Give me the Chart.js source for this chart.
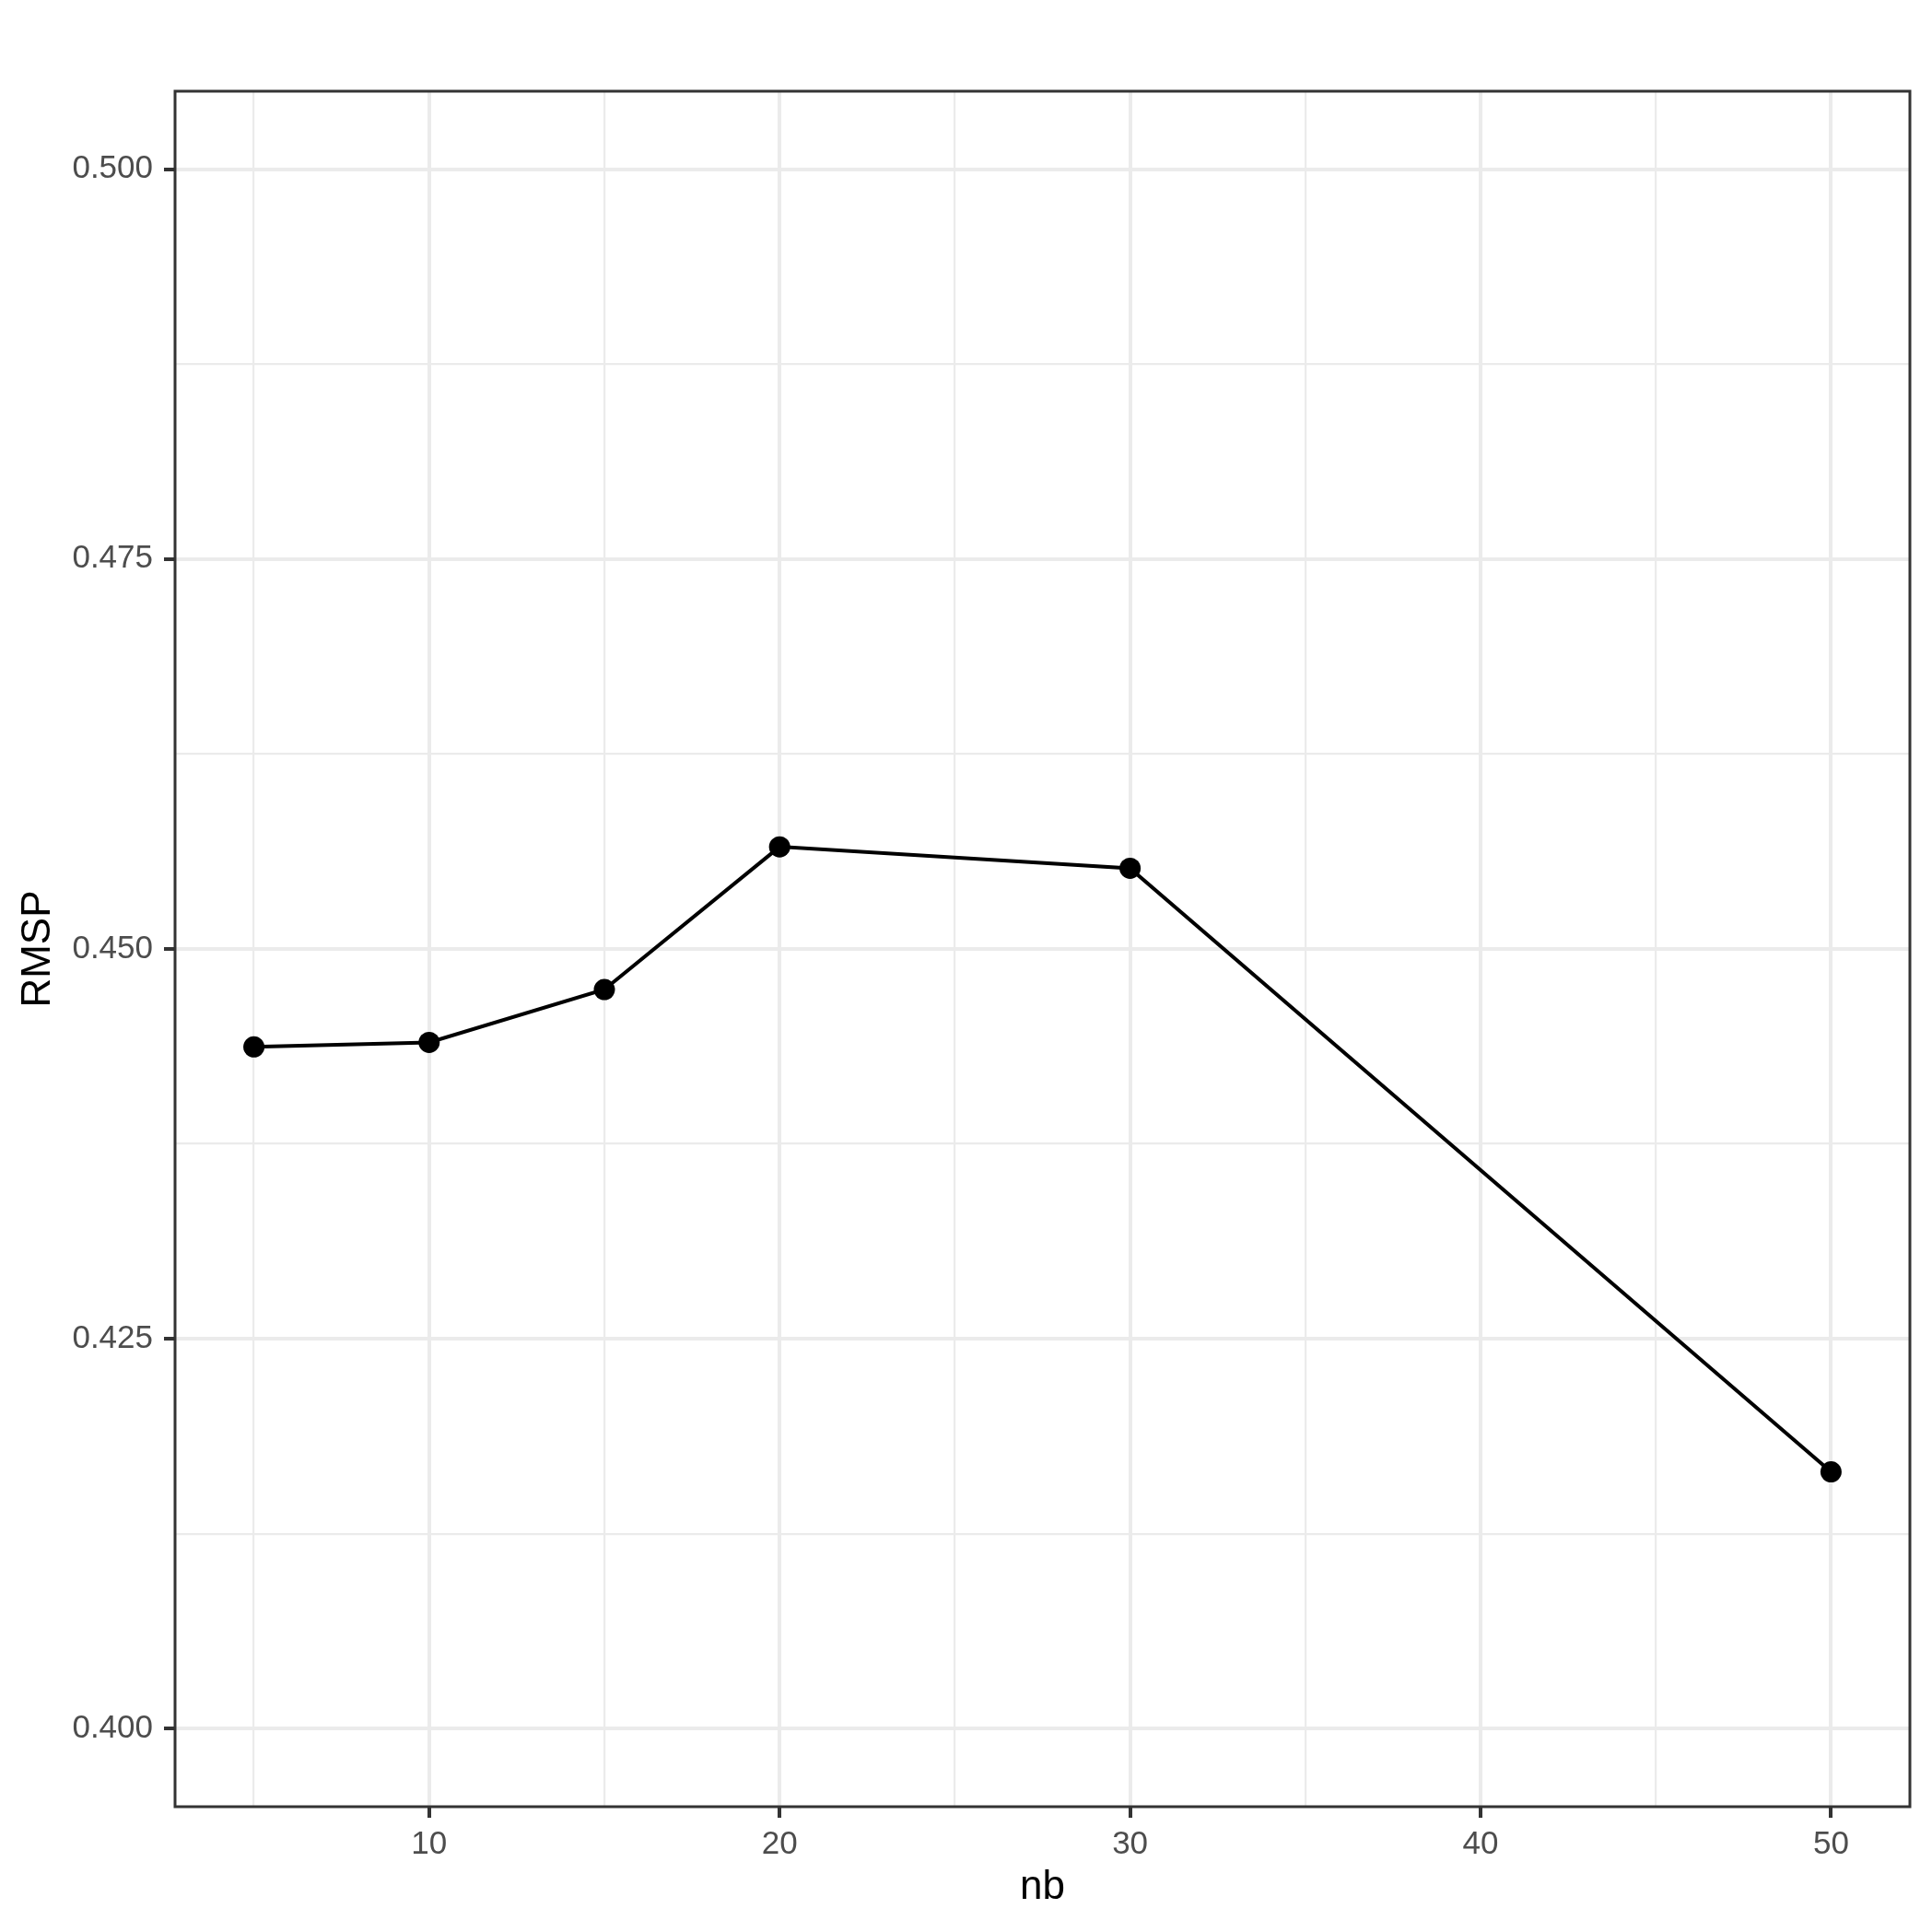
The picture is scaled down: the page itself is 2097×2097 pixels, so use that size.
<!DOCTYPE html>
<html>
<head>
<meta charset="utf-8">
<script src="https://cdn.jsdelivr.net/npm/chart.js@4"></script>
<style>
  html, body { margin: 0; padding: 0; background: #ffffff; }
  canvas { display: block; }
</style>
</head>
<body>
<canvas id="myChart" width="2097" height="2097"></canvas>
<script>
// data
const nb = [5, 10, 15, 20, 30, 50];
const rmsp = [0.44372, 0.44401, 0.44740, 0.45655, 0.45517, 0.41647];

const xMajor = [10, 20, 30, 40, 50];
const xMinor = [5, 15, 25, 35, 45];
const yMajor = [0.400, 0.425, 0.450, 0.475, 0.500];
const yMinor = [0.4125, 0.4375, 0.4625, 0.4875];

const isIn = (list, v) => list.some(m => Math.abs(m - v) < 1e-9);

// panel border like ggplot theme_bw
const panelBorder = {
    id: 'panelBorder',
    afterDraw(chart) {
        const a = chart.chartArea;
        const c = chart.ctx;
        c.save();
        c.strokeStyle = '#333333';
        c.lineWidth = 3;
        c.strokeRect(a.left, a.top, a.right - a.left, a.bottom - a.top);
        c.restore();
    }
};

document.addEventListener("DOMContentLoaded", function () {
    const ctx = document.getElementById("myChart");
    const tickFont = { family: "'Liberation Sans', Arial, sans-serif", size: 35 };
    const titleFont = { family: "'Liberation Sans', Arial, sans-serif", size: 44 };

    const gridOpts = (major) => ({
        color: '#EBEBEB',
        lineWidth: c => (c.tick && isIn(major, c.tick.value)) ? 4 : 2.2,
        tickColor: c => (c.tick && isIn(major, c.tick.value)) ? '#333333' : 'rgba(0,0,0,0)',
        tickWidth: 4,
        tickLength: 12,
        drawTicks: true
    });

    new Chart(ctx, {
        type: 'line',
        data: {
            datasets: [{
                label: 'RMSP',
                data: nb.map((v, i) => ({ x: v, y: rmsp[i] })),
                borderColor: '#000000',
                borderWidth: 4,
                tension: 0,
                pointRadius: 11.5,
                pointBackgroundColor: '#000000',
                pointBorderWidth: 0,
                pointHoverRadius: 11.5
            }]
        },
        options: {
            responsive: false,
            animation: false,
            devicePixelRatio: 1,
            layout: { padding: { left: 0, top: 99, right: 24, bottom: 0 } },
            plugins: {
                legend: { display: false },
                tooltip: { enabled: false }
            },
            scales: {
                x: {
                    type: 'linear',
                    min: 2.75,
                    max: 52.25,
                    afterBuildTicks: s => {
                        s.ticks = xMinor.concat(xMajor).sort((a, b) => a - b).map(v => ({ value: v }));
                    },
                    afterFit: s => { s.height = 136; },
                    grid: gridOpts(xMajor),
                    border: { display: false },
                    ticks: {
                        autoSkip: false,
                        maxRotation: 0,
                        padding: 8,
                        color: '#4D4D4D',
                        font: tickFont,
                        callback: v => isIn(xMajor, v) ? String(v) : ''
                    },
                    title: {
                        display: true,
                        text: 'nb',
                        color: '#000000',
                        font: titleFont,
                        padding: { top: 0, bottom: 22 }
                    }
                },
                y: {
                    type: 'linear',
                    min: 0.395,
                    max: 0.505,
                    afterBuildTicks: s => {
                        s.ticks = yMinor.concat(yMajor).sort((a, b) => a - b).map(v => ({ value: v }));
                    },
                    afterFit: s => { s.width = 190; },
                    grid: gridOpts(yMajor),
                    border: { display: false },
                    ticks: {
                        autoSkip: false,
                        padding: 12,
                        color: '#4D4D4D',
                        font: tickFont,
                        callback: v => isIn(yMajor, v) ? v.toFixed(3) : ''
                    },
                    title: {
                        display: true,
                        text: 'RMSP',
                        color: '#000000',
                        font: titleFont,
                        padding: { top: 15, bottom: 0 }
                    }
                }
            }
        },
        plugins: [panelBorder]
    });
});
</script>
</body>
</html>
